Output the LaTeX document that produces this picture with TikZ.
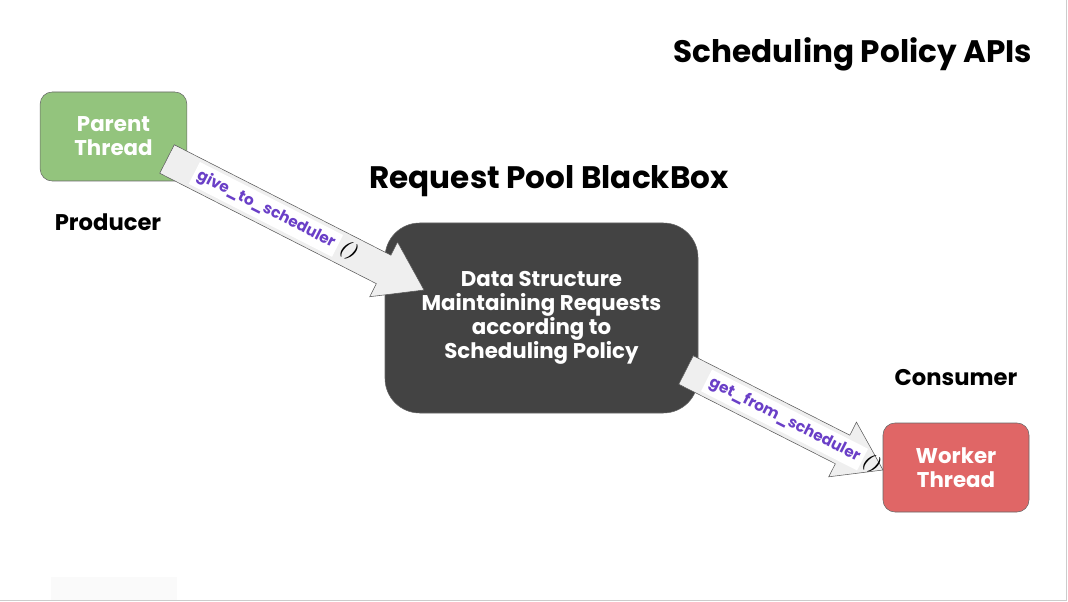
\documentclass[tikz,border=0pt]{standalone}
\usepackage{fontspec}
\setmainfont{Poppins}
\newfontfamily\parenfont{Latin Modern Roman}
\usepackage{tikz}
\usetikzlibrary{calc,positioning}

\definecolor{parentgreen}{HTML}{93C47D}
\definecolor{workerred}{HTML}{E06666}
\definecolor{pooldark}{HTML}{434343}
\definecolor{arrowfill}{HTML}{EFEFEF}
\definecolor{arrowline}{HTML}{595959}
\definecolor{apipurple}{HTML}{6A3FC7}

\begin{document}
\begin{tikzpicture}[x=0.75pt,y=-0.75pt,
  box/.style={draw=black!60,thin,rounded corners=9pt,text=white,
    font=\bfseries\fontsize{16}{18}\selectfont,align=center,
    minimum width=110pt,minimum height=66.75pt},
  title/.style={font=\bfseries\fontsize{23.3}{26}\selectfont},
  role/.style={font=\bfseries\fontsize{17}{20}\selectfont},
  blockarrow/.style={draw=arrowline,fill=arrowfill,thin,line join=miter},
  apilabel/.style={font=\bfseries\fontsize{11.5}{13}\selectfont,inner sep=0pt}]
\useasboundingbox (0,0) rectangle (1068,602);

\newcommand{\blockarrow}[2]{%
  \coordinate (HeadBase) at ($(#2)!34pt!(#1)$);
  \draw[blockarrow] ($(#1)!12pt!90:(#2)$) -- ($(HeadBase)!12pt!90:(#2)$)
    -- ($(HeadBase)!23pt!90:(#2)$) -- (#2) -- ($(HeadBase)!23pt!-90:(#2)$)
    -- ($(HeadBase)!12pt!-90:(#2)$) -- ($(#1)!12pt!-90:(#2)$) -- cycle;
}
\newcommand{\callparens}{{\parenfont\bfseries\itshape\fontsize{14}{14}\selectfont ()}}

% slide edges
\fill[black!2] (51,577) rectangle (177,600);
\draw[black!20] (0,600.5) -- (1066.5,600.5) -- (1066.5,0);

% titles
\node[title] (ApiTitle)  at (853,54)  {Scheduling Policy APIs};
\node[title] (PoolTitle) at (549,181) {Request Pool BlackBox};

% boxes
\node[box,fill=parentgreen] (ParentBox) at (113.5,136.5) {Parent\\Thread};
\node[box,fill=pooldark,rounded corners=26pt,minimum width=234.75pt,
      minimum height=142.5pt] (PoolBox) at (541.5,318)
      {Data Structure\\Maintaining Requests\\according to\\Scheduling Policy};
\node[box,fill=workerred,minimum width=109.5pt] (WorkerBox) at (956,467.5)
      {Worker\\Thread};

\node[role] (Producer) at (108,222) {Producer};
\node[role] (Consumer) at (956,378) {Consumer};

% arrows
\coordinate (GiveStart) at (167,159);
\coordinate (GiveEnd)   at (424,290);
\coordinate (GetStart)  at (686,370);
\coordinate (GetEnd)    at (883,470);

\blockarrow{GiveStart}{GiveEnd}
\blockarrow{GetStart}{GetEnd}

\path (GiveStart) -- (GiveEnd) node[apilabel,sloped,pos=0.42] (GiveLabel)
  {\colorbox{white}{\textcolor{apipurple}{give\_to\_scheduler}}\,\callparens};
\path (GetStart) -- (GetEnd) node[apilabel,sloped,pos=0.54] (GetLabel)
  {\colorbox{white}{\textcolor{apipurple}{get\_from\_scheduler}}\callparens};
\end{tikzpicture}
\end{document}
